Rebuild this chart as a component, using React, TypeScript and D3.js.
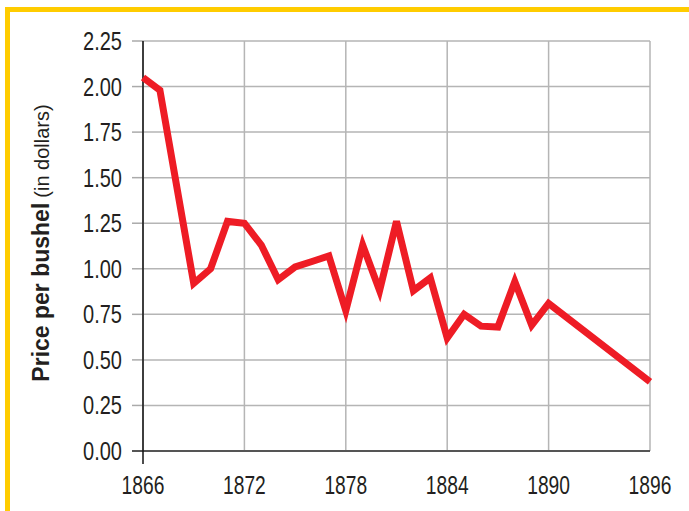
import React from "react";
import * as d3 from "d3";

const years = [1866, 1867, 1869, 1870, 1871, 1872, 1873, 1874, 1875, 1876, 1877, 1878, 1879, 1880, 1881, 1882, 1883, 1884, 1885, 1886, 1887, 1888, 1889, 1890, 1896];
const prices = [2.05, 1.98, 0.92, 1.0, 1.26, 1.25, 1.13, 0.94, 1.01, 1.04, 1.07, 0.77, 1.13, 0.88, 1.26, 0.88, 0.95, 0.62, 0.75, 0.685, 0.68, 0.93, 0.69, 0.81, 0.38];
const xTicks = [1866, 1872, 1878, 1884, 1890, 1896];
const yTicks = [0, 0.25, 0.5, 0.75, 1.0, 1.25, 1.5, 1.75, 2.0, 2.25];

const width = 689;
const height = 511;
const font = "'Liberation Sans', Arial, sans-serif";

export default function App() {
  const x = d3.scaleLinear().domain([1866, 1896]).range([143, 650]);
  const y = d3.scaleLinear().domain([0, 2.25]).range([451, 41]);

  const line = d3
    .line<number>()
    .x((_, i) => x(years[i]))
    .y((d) => y(d));

  return (
    <svg width={width} height={height} style={{ position: "absolute", left: 0, top: 0 }}>
      <rect width={width} height={height} fill="#fff" />
      {/* yellow frame */}
      <rect x={5} y={7} width={width - 5} height={5} fill="#ffcc00" />
      <rect x={5} y={7} width={5} height={height - 7} fill="#ffcc00" />

      {/* grid */}
      {yTicks.map((t) => (
        <line key={"gy" + t} x1={x(1866)} x2={x(1896)} y1={y(t)} y2={y(t)} stroke="#b5b5b5" strokeWidth={1.5} />
      ))}
      {xTicks.map((t) => (
        <line key={"gx" + t} x1={x(t)} x2={x(t)} y1={y(2.25)} y2={y(0)} stroke="#b5b5b5" strokeWidth={1.5} />
      ))}

      {/* y ticks */}
      {yTicks.map((t) => (
        <line key={"ty" + t} x1={x(1866) - 11} x2={x(1866)} y1={y(t)} y2={y(t)} stroke="#aaa" strokeWidth={1.5} />
      ))}
      {/* axes */}
      <line x1={x(1866) - 11} x2={x(1896)} y1={y(0)} y2={y(0)} stroke="#555" strokeWidth={2.2} />
      <line x1={x(1866)} x2={x(1866)} y1={y(2.25)} y2={y(0) + 13} stroke="#111" strokeWidth={1.5} />

      {yTicks.map((t) => (
        <text
          key={"ly" + t}
          transform={`translate(122,${y(t)}) scale(0.8,1)`}
          dy="0.36em"
          textAnchor="end"
          fontFamily={font}
          fontSize={25}
          fill="#231f20"
        >
          {d3.format(".2f")(t)}
        </text>
      ))}
      {xTicks.map((t) => (
        <text
          key={"lx" + t}
          transform={`translate(${x(t)},494) scale(0.74,1)`}
          textAnchor="middle"
          fontFamily={font}
          fontSize={26}
          fill="#231f20"
        >
          {t}
        </text>
      ))}

      <text transform="translate(49,243) rotate(-90)" textAnchor="middle" fontFamily={font} fill="#231f20">
        <tspan fontSize={23} fontWeight="bold">Price per bushel</tspan>
        <tspan fontSize={20} dx={5}>(in dollars)</tspan>
      </text>

      <path d={line(prices) ?? ""} fill="none" stroke="#ee1c25" strokeWidth={7} strokeLinejoin="miter" strokeMiterlimit={4} />
    </svg>
  );
}
